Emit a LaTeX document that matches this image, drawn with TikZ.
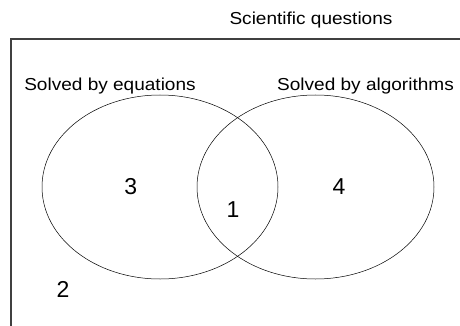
\documentclass[tikz,border=0pt]{standalone}
\usepackage{fontspec}
\setmainfont{Liberation Sans}
\begin{document}
\begin{tikzpicture}[x=1pt,y=-1pt,
  lab/.style={inner sep=0pt,anchor=base,xscale=1.1,font=\fontsize{17.3}{20}\selectfont},
  num/.style={inner sep=0pt,anchor=base,font=\fontsize{23}{26}\selectfont},
  setell/.style={draw=black,line width=0.5pt}]
\useasboundingbox (0,0) rectangle (460,326);
\draw[draw=black!75,line width=1.3pt] (470,39) -- coordinate (ftop) (11,39) -- coordinate (fleft) (11,340);
\node[lab] (sq) at (311,24.3) {Scientific questions};
\node[lab] (se) at (110,91) {Solved by equations};
\node[lab] (sa) at (365.5,91) {Solved by algorithms};
\draw[setell] (160,187) ellipse [x radius=118, y radius=92];
\draw[setell] (315.5,187) ellipse [x radius=118.5, y radius=92];
\node[num] (n3) at (130.7,194) {3};
\node[num] (n4) at (339,194) {4};
\node[num] (n1) at (233,217) {1};
\node[num] (n2) at (63,297) {2};
\end{tikzpicture}
\end{document}
